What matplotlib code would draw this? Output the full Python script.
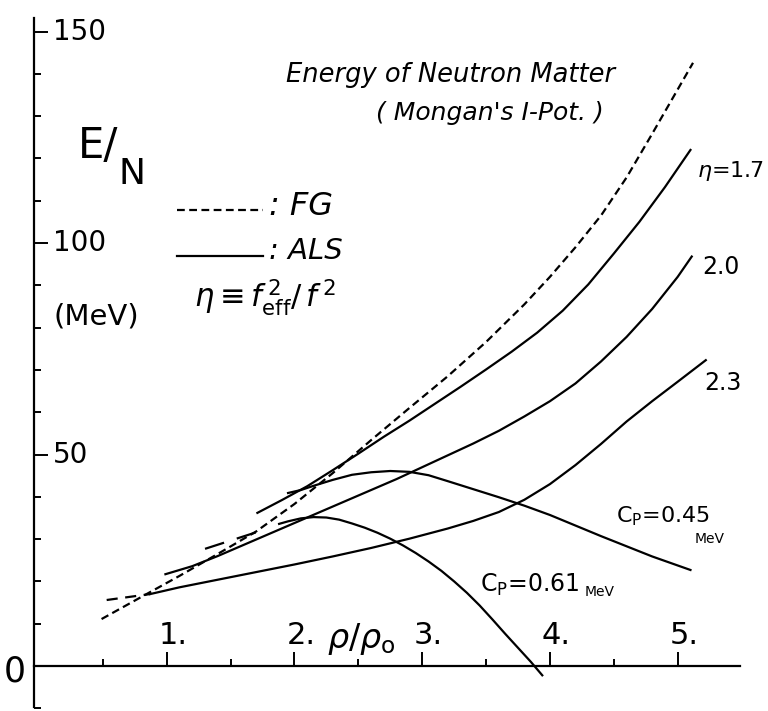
import matplotlib.pyplot as plt
from matplotlib.ticker import MultipleLocator, FixedLocator

plt.rcParams['font.family'] = ['DejaVu Sans']
plt.rcParams['mathtext.fontset'] = 'dejavusans'

# --- dane (rho/rho0, E/N w MeV) ---
fg_x = [0.49, 0.8, 1.1, 1.4, 1.7, 2.0, 2.3, 2.6, 2.9, 3.2, 3.5, 3.8, 4.0, 4.2, 4.4, 4.6, 4.8, 5.0, 5.12]
fg_y = [11.1, 16.3, 21.3, 26.5, 31.8, 38.3, 45.6, 53.4, 61.0, 68.5, 76.6, 85.5, 92.0, 99.0, 106.5, 115.5, 125.8, 136.3, 142.6]

eta17_x = [1.71, 1.9, 2.1, 2.3, 2.5, 2.7, 2.9, 3.1, 3.3, 3.5, 3.7, 3.9, 4.1, 4.3, 4.5, 4.7, 4.9, 5.1]
eta17_y = [36.2, 39.2, 42.5, 46.3, 50.2, 54.2, 58.0, 62.0, 66.0, 70.1, 74.3, 78.8, 84.0, 90.2, 97.5, 105.0, 113.2, 122.0]
eta17_low_x = [1.30, 1.71]
eta17_low_y = [27.7, 31.7]

eta20_x = [0.99, 1.2, 1.4, 1.6, 1.8, 2.0, 2.2, 2.4, 2.6, 2.8, 3.0, 3.2, 3.4, 3.6, 3.8, 4.0, 4.2, 4.4, 4.6, 4.8, 5.0, 5.11]
eta20_y = [21.7, 23.6, 26.0, 28.6, 31.2, 33.8, 36.4, 39.0, 41.6, 44.2, 47.0, 49.8, 52.6, 55.6, 59.0, 62.6, 66.8, 72.0, 77.8, 84.4, 92.0, 96.8]

eta23_x = [0.87, 1.1, 1.4, 1.7, 2.0, 2.3, 2.6, 2.9, 3.2, 3.4, 3.6, 3.8, 4.0, 4.2, 4.4, 4.6, 4.8, 5.0, 5.22]
eta23_y = [17.0, 18.6, 20.4, 22.2, 24.0, 25.9, 27.9, 30.1, 32.5, 34.3, 36.4, 39.3, 43.0, 47.5, 52.5, 57.8, 62.6, 67.2, 72.3]
eta23_low_x = [0.53, 0.87]
eta23_low_y = [15.6, 17.0]

cp045_x = [1.95, 2.05, 2.15, 2.3, 2.45, 2.6, 2.75, 2.9, 3.05, 3.2, 3.4, 3.6, 3.8, 4.0, 4.2, 4.4, 4.6, 4.8, 5.1]
cp045_y = [40.9, 41.6, 42.6, 44.0, 45.2, 45.8, 46.1, 45.9, 45.1, 43.7, 41.8, 39.9, 37.9, 35.7, 33.2, 30.7, 28.3, 25.9, 22.7]

cp061_x = [1.88, 1.95, 2.05, 2.15, 2.25, 2.35, 2.45, 2.55, 2.65, 2.75, 2.85, 2.95, 3.05,
           3.15, 3.25, 3.35, 3.45, 3.55, 3.65, 3.75, 3.85, 3.94]
cp061_y = [33.6, 34.2, 34.9, 35.2, 35.1, 34.6, 33.7, 32.7, 31.5, 30.1, 28.5, 26.7, 24.7,
           22.5, 20.0, 17.3, 14.3, 11.0, 7.6, 4.3, 1.0, -2.2]

x_ticks = [1, 2, 3, 4, 5]
x_tick_labels = ["1.", "2.", "3.", "4.", "5."]
y_ticks = [50, 100, 150]
y_tick_labels = ["50", "100", "150"]

eta_labels = [r"$\eta$=1.7", "2.0", "2.3"]


def main():
    fig = plt.figure(figsize=(7.68, 7.11), dpi=100)
    ax = fig.add_axes([0, 0, 1, 1])
    ax.set_xlim(-0.305, 5.707)
    ax.set_ylim(-10.64, 157.45)

    # osie
    for s in ["top", "right"]:
        ax.spines[s].set_visible(False)
    ax.spines["left"].set_position(("data", -0.04))
    ax.spines["bottom"].set_position(("data", 0))
    ax.spines["left"].set_bounds(-9.7, 153.2)
    ax.spines["bottom"].set_bounds(-0.04, 5.49)
    for s in ["left", "bottom"]:
        ax.spines[s].set_linewidth(1.6)

    ax.xaxis.set_major_locator(FixedLocator(x_ticks))
    ax.xaxis.set_minor_locator(FixedLocator([0.5, 1.5, 2.5, 3.5, 4.5]))
    ax.yaxis.set_major_locator(FixedLocator(y_ticks))
    ax.yaxis.set_minor_locator(MultipleLocator(10))
    ax.tick_params(which="both", direction="in", width=1.4, labelleft=False, labelbottom=False)
    ax.tick_params(which="major", length=10)
    ax.tick_params(which="minor", length=5)

    for xt, lab in zip(x_ticks, x_tick_labels):
        ax.text(xt + 0.05, 7.3, lab, fontsize=22, ha="center", va="center")
    for yt, lab in zip(y_ticks, y_tick_labels):
        ax.text(0.11, yt, lab, fontsize=20, ha="left", va="center")
    ax.text(-0.19, -1.2, "0", fontsize=25, ha="center", va="center")

    # krzywe
    lw = 1.6
    ax.plot(fg_x, fg_y, color="black", lw=lw, dashes=(3.5, 2.0))
    ax.plot(eta17_x, eta17_y, color="black", lw=lw)
    ax.plot(eta17_low_x, eta17_low_y, color="black", lw=lw, dashes=(9, 6))
    ax.plot(eta20_x, eta20_y, color="black", lw=lw)
    ax.plot(eta23_x, eta23_y, color="black", lw=lw)
    ax.plot(eta23_low_x, eta23_low_y, color="black", lw=lw, dashes=(5, 3.4))
    ax.plot(cp045_x, cp045_y, color="black", lw=lw)
    ax.plot(cp061_x, cp061_y, color="black", lw=lw)

    # etykiety krzywych
    ax.text(eta17_x[-1] + 0.05, eta17_y[-1] - 5, eta_labels[0], fontsize=16, ha="left", va="center")
    ax.text(eta20_x[-1] + 0.08, eta20_y[-1] - 2.5, eta_labels[1], fontsize=17, ha="left", va="center")
    ax.text(eta23_x[-1] - 0.01, eta23_y[-1] - 5.5, eta_labels[2], fontsize=17, ha="left", va="center")

    ax.text(4.52, 35.5, r"C$_\mathregular{P}$=0.45", fontsize=16, ha="left", va="center")
    ax.text(5.13, 30.0, "MeV", fontsize=10, ha="left", va="center")
    ax.text(3.45, 19.1, r"C$_\mathregular{P}$=0.61", fontsize=17, ha="left", va="center")
    ax.text(4.27, 17.5, "MeV", fontsize=10, ha="left", va="center")

    ax.text(2.52, 6.3, r"$\rho$/$\rho_\mathregular{o}$", fontsize=24, ha="center", va="center")

    # tytul
    ax.text(3.22, 139.7, "Energy of Neutron Matter", fontsize=18.5, style="italic",
            ha="center", va="center")
    ax.text(3.53, 130.7, "( Mongan's I-Pot. )", fontsize=18, style="italic",
            ha="center", va="center")

    # opis osi y
    ax.text(0.46, 123.0, "E/", fontsize=30, ha="center", va="center")
    ax.text(0.73, 116.3, "N", fontsize=26, ha="center", va="center")
    ax.text(0.45, 82.7, "(MeV)", fontsize=21, ha="center", va="center")

    # legenda
    ax.plot([1.08, 1.75], [107.8, 107.8], color="black", lw=lw, dashes=(3.5, 2.0))
    ax.plot([1.08, 1.75], [96.9, 96.9], color="black", lw=lw)
    ax.text(1.80, 108.7, ": FG", fontsize=23, style="italic", ha="left", va="center")
    ax.text(1.80, 98.2, ": ALS", fontsize=21, style="italic", ha="left", va="center")
    ax.text(1.21, 87.0, r"$\eta\equiv f^{\,2}_{\mathregular{eff}}/\,f^{\,2}$", fontsize=22,
            ha="left", va="center")

    fig.savefig("out.png", dpi=100)
    plt.close(fig)


if __name__ == "__main__":
    main()
